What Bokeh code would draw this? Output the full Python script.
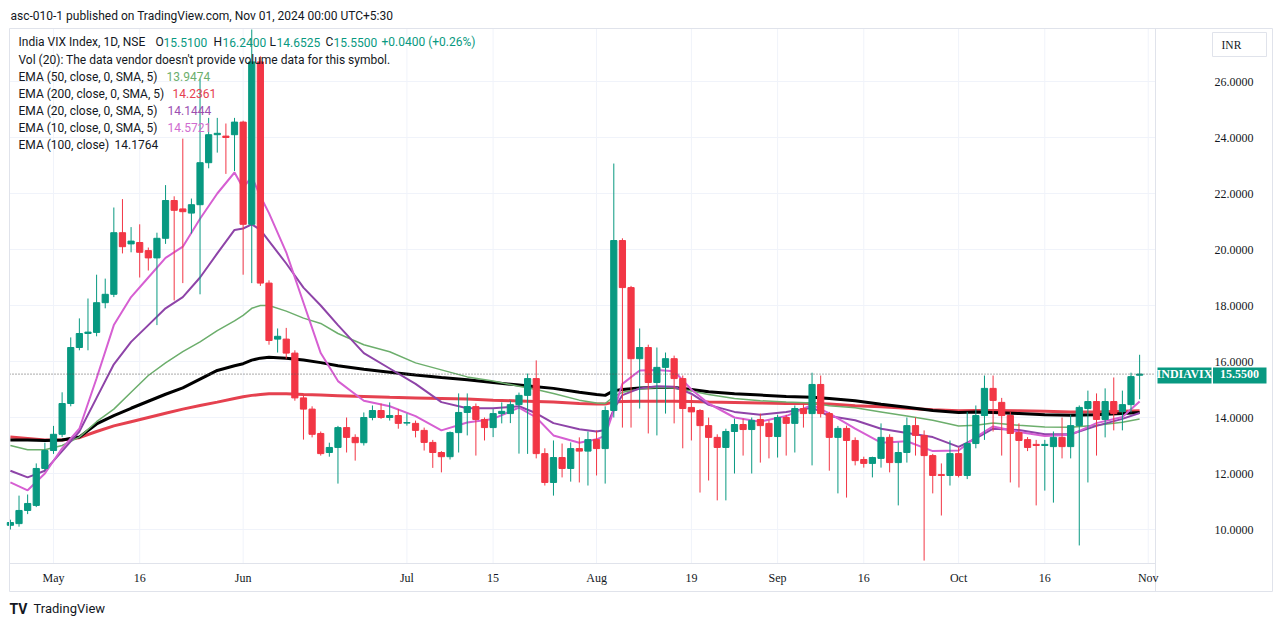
from bokeh.plotting import figure
from bokeh.models import Range1d, Label
from bokeh.embed import file_html
from bokeh.resources import INLINE

# ---------------- data ----------------
dates = [
    "2024-04-24", "2024-04-25", "2024-04-26", "2024-04-29", "2024-04-30",
    "2024-05-02", "2024-05-03", "2024-05-06", "2024-05-07", "2024-05-08", "2024-05-09", "2024-05-10",
    "2024-05-13", "2024-05-14", "2024-05-15", "2024-05-16", "2024-05-17", "2024-05-18", "2024-05-21",
    "2024-05-22", "2024-05-23", "2024-05-24", "2024-05-27", "2024-05-28", "2024-05-29", "2024-05-30",
    "2024-05-31",
    "2024-06-03", "2024-06-04", "2024-06-05", "2024-06-06", "2024-06-07", "2024-06-10", "2024-06-11",
    "2024-06-12", "2024-06-13", "2024-06-14", "2024-06-18", "2024-06-19", "2024-06-20", "2024-06-21",
    "2024-06-24", "2024-06-25", "2024-06-26", "2024-06-27", "2024-06-28",
    "2024-07-01", "2024-07-02", "2024-07-03", "2024-07-04", "2024-07-05", "2024-07-08", "2024-07-09",
    "2024-07-10", "2024-07-11", "2024-07-12", "2024-07-15", "2024-07-16", "2024-07-18", "2024-07-19",
    "2024-07-22", "2024-07-23", "2024-07-24", "2024-07-25", "2024-07-26", "2024-07-29", "2024-07-30",
    "2024-07-31",
    "2024-08-01", "2024-08-02", "2024-08-05", "2024-08-06", "2024-08-07", "2024-08-08", "2024-08-09",
    "2024-08-12", "2024-08-13", "2024-08-14", "2024-08-16", "2024-08-19", "2024-08-20", "2024-08-21",
    "2024-08-22", "2024-08-23", "2024-08-26", "2024-08-27", "2024-08-28", "2024-08-29", "2024-08-30",
    "2024-09-02", "2024-09-03", "2024-09-04", "2024-09-05", "2024-09-06", "2024-09-09", "2024-09-10",
    "2024-09-11", "2024-09-12", "2024-09-13", "2024-09-16", "2024-09-17", "2024-09-18", "2024-09-19",
    "2024-09-20", "2024-09-23", "2024-09-24", "2024-09-25", "2024-09-26", "2024-09-27", "2024-09-30",
    "2024-10-01", "2024-10-03", "2024-10-04", "2024-10-07", "2024-10-08", "2024-10-09", "2024-10-10",
    "2024-10-11", "2024-10-14", "2024-10-15", "2024-10-16", "2024-10-17", "2024-10-18", "2024-10-21",
    "2024-10-22", "2024-10-23", "2024-10-24", "2024-10-25", "2024-10-28", "2024-10-29", "2024-10-30",
    "2024-10-31",
]

opens = [
    10.15, 10.21, 10.68, 10.86, 12.18,
    12.82, 13.4, 14.5, 16.5, 17.0, 17.04, 18.1, 18.4, 20.6, 20.2, 20.25, 19.96, 19.7, 20.4, 21.75,
    21.45, 21.3, 21.6, 23.1, 24.1, 24.05, 24.1,
    24.55, 20.9, 26.7, 18.8, 16.8, 16.8, 16.3, 14.7, 14.3, 13.43, 12.75, 12.93, 13.64, 13.29, 13.1,
    14.0, 14.25, 14.0, 14.07,
    13.8, 13.79, 13.54, 13.11, 12.75, 12.6, 13.46, 14.18, 14.39, 13.93, 13.64, 14.14, 14.14, 14.46,
    14.79, 15.39, 12.71, 11.68, 12.57, 12.18, 12.89, 12.8,
    13.21, 12.89, 14.25, 20.32, 18.64, 16.1, 16.5, 15.25, 15.79, 16.1, 15.39, 14.36, 14.25, 13.71,
    13.29, 12.93, 13.5, 13.75, 13.57, 13.93, 13.79,
    13.32, 14.0, 13.79, 14.32, 14.14, 15.18, 14.14, 13.29, 13.61, 13.18, 12.5, 12.36, 12.54, 13.29,
    12.39, 12.75, 13.71, 13.36, 12.64, 11.96, 11.93,
    12.71, 11.93, 13.07, 14.07, 15.04, 14.54, 14.07, 13.46, 13.21, 13.04, 13.0, 12.96, 13.29, 12.96,
    13.71, 14.32, 14.57, 13.93, 14.57, 14.21, 14.46, 15.51,
]
highs = [
    10.35, 11.21, 11.25, 12.36, 13.1,
    13.7, 14.9, 16.86, 17.54, 18.25, 19.1, 18.96, 21.5, 21.8, 20.8, 20.9, 20.07, 20.6, 22.3, 21.9,
    23.96, 21.82, 26.1, 24.7, 24.7, 24.5, 24.7,
    24.6, 31.7, 26.9, 18.9, 17.18, 17.2, 16.4, 14.8, 14.4, 13.5, 13.1, 13.7, 14.0, 13.4, 14.18,
    14.43, 14.5, 14.54, 14.3,
    14.14, 13.89, 13.64, 13.2, 12.8, 13.5, 14.86, 14.86, 14.5, 14.0, 14.3, 14.54, 14.6, 14.89,
    15.57, 16.04, 12.9, 13.18, 13.07, 13.11, 13.29, 13.5,
    13.54, 14.4, 23.07, 20.4, 18.7, 17.18, 16.6, 16.5, 16.32, 16.21, 15.5, 14.79, 14.3, 14.0,
    13.4, 13.6, 13.96, 13.96, 14.0, 14.14, 13.9,
    14.1, 14.1, 14.43, 14.5, 15.6, 15.5, 14.2, 13.7, 13.71, 13.29, 12.6, 12.6, 13.79, 13.4,
    13.11, 14.0, 14.0, 13.54, 12.7, 12.36, 13.18,
    12.93, 14.2, 14.43, 15.5, 15.5, 14.7, 14.2, 13.79, 13.3, 13.2, 13.2, 13.5, 14.0, 14.1,
    14.43, 14.96, 14.86, 15.04, 15.43, 14.96, 15.6, 16.24,
]
lows = [
    10.0, 10.1, 10.55, 10.8, 12.1,
    12.7, 13.3, 14.4, 16.4, 16.4, 16.9, 17.9, 18.3, 19.86, 19.9, 19.0, 19.25, 17.3, 20.2, 18.18,
    18.8, 20.57, 18.4, 22.9, 23.46, 22.7, 22.8,
    19.1, 18.8, 18.7, 16.6, 16.32, 16.1, 14.6, 13.21, 13.29, 12.64, 12.6, 11.64, 12.75, 12.46, 13.0,
    13.9, 13.95, 13.89, 13.6,
    13.71, 13.29, 12.82, 12.2, 12.04, 12.5, 12.75, 13.36, 12.64, 13.18, 13.3, 13.79, 13.8, 12.71,
    12.7, 12.54, 11.57, 11.21, 11.86, 11.71, 11.68, 11.57,
    11.93, 11.64, 14.0, 13.64, 13.64, 14.32, 13.43, 13.36, 14.14, 13.79, 12.9, 13.18, 11.32, 11.75,
    11.04, 11.04, 12.0, 12.64, 12.0, 12.39, 12.54,
    12.57, 12.64, 12.75, 13.64, 12.29, 14.0, 12.1, 11.29, 11.14, 12.29, 12.21, 11.86, 12.21, 12.04,
    10.86, 12.39, 12.64, 8.89, 11.29, 10.5, 11.57,
    11.86, 11.8, 12.9, 13.2, 13.5, 12.64, 11.68, 11.5, 12.8, 10.86, 11.39, 10.96, 12.54, 12.54,
    9.43, 11.68, 12.64, 13.29, 13.54, 13.54, 14.18, 14.6525,
]
closes = [
    10.25, 10.68, 10.93, 12.18, 12.82,
    13.4, 14.5, 16.5, 17.0, 17.05, 18.1, 18.4, 20.6, 20.1, 20.3, 19.9, 19.7, 20.4, 21.75, 21.4,
    21.35, 21.6, 23.1, 24.1, 24.15, 24.0, 24.55,
    20.9, 26.7, 18.8, 16.75, 16.9, 16.3, 14.7, 14.3, 13.4, 12.71, 12.93, 13.64, 13.29, 13.1, 14.0,
    14.25, 14.0, 14.07, 13.79,
    13.82, 13.54, 13.11, 12.75, 12.6, 13.46, 14.18, 14.39, 13.93, 13.64, 14.14, 14.22, 14.46, 14.79,
    15.39, 12.71, 11.68, 12.57, 12.18, 12.89, 12.8, 13.21,
    12.89, 14.25, 20.32, 18.64, 16.1, 16.5, 15.25, 15.79, 16.1, 15.39, 14.32, 14.2, 13.71, 13.29,
    12.93, 13.5, 13.75, 13.57, 13.89, 13.71, 13.32,
    14.0, 13.79, 14.32, 14.14, 15.18, 14.14, 13.29, 13.61, 13.18, 12.46, 12.36, 12.57, 13.29, 12.39,
    12.75, 13.71, 13.36, 12.64, 11.93, 11.93, 12.71,
    11.93, 13.07, 14.07, 15.04, 14.61, 14.07, 13.43, 13.18, 12.93, 13.0, 13.04, 13.29, 12.96, 13.71,
    14.36, 14.57, 13.93, 14.57, 14.14, 14.46, 15.46, 15.55,
]

# EMA readings (position in `dates`)
ema_at = [0, 2, 4, 6, 8, 10, 12, 14, 16, 18, 20, 22, 24, 26, 27, 28, 29, 30, 32, 34, 36, 38, 41, 44,
          47, 50, 53, 56, 59, 61, 63, 66, 68, 69, 70, 71, 73, 75, 77, 79, 81, 84, 87, 90, 93, 95,
          98, 101, 104, 107, 110, 112, 114, 117, 120, 123, 126, 129, 131]
ema100 = [13.2, 13.2, 13.18, 13.2, 13.3, 13.77, 14.07, 14.33, 14.58, 14.83, 15.06, 15.37, 15.68, 15.85,
          15.92, 16.05, 16.12, 16.15, 16.12, 16.05, 15.96, 15.85, 15.72, 15.62, 15.52, 15.43, 15.35,
          15.25, 15.16, 15.1, 15.04, 14.9, 14.82, 14.79, 14.96, 15.0, 15.05, 15.07, 15.07, 15.0,
          14.92, 14.85, 14.8, 14.75, 14.72, 14.68, 14.6, 14.47, 14.37, 14.25, 14.18, 14.2, 14.18,
          14.14, 14.1, 14.08, 14.1, 14.14, 14.18]
ema200 = [13.3, 13.25, 13.2, 13.2, 13.28, 13.5, 13.7, 13.85, 14.0, 14.15, 14.3, 14.43, 14.55, 14.68,
          14.74, 14.79, 14.82, 14.85, 14.85, 14.82, 14.8, 14.78, 14.75, 14.72, 14.7, 14.68, 14.66,
          14.62, 14.59, 14.57, 14.55, 14.5, 14.48, 14.48, 14.55, 14.57, 14.58, 14.58, 14.58, 14.57,
          14.55, 14.54, 14.52, 14.5, 14.5, 14.48, 14.42, 14.38, 14.33, 14.28, 14.24, 14.25, 14.25,
          14.24, 14.22, 14.2, 14.2, 14.22, 14.24]
ema50 = [13.0, 12.85, 12.85, 13.0, 13.3, 13.85, 14.3, 14.9, 15.5, 15.95, 16.35, 16.7, 17.1, 17.45,
         17.65, 17.9, 18.0, 18.0, 17.8, 17.55, 17.36, 17.0, 16.6, 16.35, 15.95, 15.7, 15.45, 15.3,
         15.12, 15.0, 14.86, 14.62, 14.52, 14.5, 14.75, 14.9, 15.02, 15.07, 15.05, 14.95, 14.82,
         14.68, 14.6, 14.55, 14.52, 14.42, 14.35, 14.2, 14.05, 13.9, 13.7, 13.72, 13.8, 13.72, 13.66,
         13.65, 13.72, 13.83, 13.95]
ema20 = [12.1, 11.86, 12.1, 12.8, 13.5, 14.7, 15.9, 16.7, 17.3, 17.9, 18.3, 19.0, 19.86, 20.7, 20.75,
         20.9, 20.7, 20.3, 19.5, 18.64, 18.0, 17.3, 16.3, 15.75, 15.2, 14.55, 14.33, 14.33, 14.4,
         14.15, 13.8, 13.58, 13.5, 13.55, 14.3, 14.8, 15.04, 15.12, 15.1, 14.85, 14.45, 14.2, 14.1,
         14.2, 14.35, 14.05, 13.9, 13.6, 13.45, 13.3, 12.95, 13.25, 13.6, 13.55, 13.4, 13.4, 13.7,
         13.95, 14.16]
ema10 = [11.68, 11.4, 12.0, 12.9, 13.6, 15.4, 17.3, 18.3, 19.0, 19.7, 20.1, 21.1, 22.0, 22.75, 22.2,
         22.6, 21.9, 21.3, 19.9, 18.1, 16.3, 15.3, 14.6, 14.4, 14.05, 13.54, 13.82, 13.95, 14.35,
         14.0, 13.36, 13.1, 13.22, 13.35, 14.25, 15.2, 15.68, 15.7, 15.65, 15.0, 14.5, 14.0, 13.85,
         14.05, 14.45, 14.15, 13.6, 13.1, 13.15, 12.8, 12.82, 13.3, 13.68, 13.48, 13.34, 13.38, 13.8,
         14.02, 14.57]

tick_dates = ["2024-05-02", "2024-05-16", "2024-06-03", "2024-07-01", "2024-07-15", "2024-08-01",
              "2024-08-19", "2024-09-02", "2024-09-16", "2024-10-01", "2024-10-16", "2024-11-01"]
tick_labels = ["May", "16", "Jun", "Jul", "15", "Aug", "19", "Sep", "16", "Oct", "16", "Nov"]
price_ticks = [10, 12, 14, 16, 18, 20, 22, 24, 26]
last_close = 15.55

# ---------------- layout / style ----------------
UP = "#089981"
DOWN = "#f23645"
TXT = "#131722"
BORDER = "#e0e3eb"
GRID = "#f0f3fa"
FONT = "Roboto"
W, H = 1280, 626
STEP = 8.62                 # px per trading day
X0_PX, X0_POS = 53, 5       # pixel column of the first May candle and its list position


def X(px):                  # page pixel column -> data x
    return X0_POS + (px - X0_PX) / STEP


def Y(py):                  # page pixel row -> data y (price)
    return 26 - (py - 81) / 28.0


PLOT_L, PLOT_R, PLOT_T, PLOT_B = 9, 1155, 28, 563
AXIS_B, CHART_R = 591, 1272

xs = list(range(len(dates)))
pos = {d: i for i, d in enumerate(dates)}
tick_pos = [pos.get(d, len(dates)) for d in tick_dates]
ema_x = [xs[i] for i in ema_at]

p = figure(width=W, height=H, output_backend="svg", toolbar_location=None,
           x_range=Range1d(X(0), X(W)), y_range=Range1d(Y(H), Y(0)),
           x_axis_location=None, y_axis_location=None, min_border=0)
p.outline_line_color = None
p.background_fill_color = "white"
p.border_fill_color = "white"
p.grid.visible = False

# grid
p.segment(x0=tick_pos, y0=[Y(PLOT_T)] * len(tick_pos), x1=tick_pos, y1=[Y(PLOT_B)] * len(tick_pos),
          line_color=GRID, line_width=1)
p.segment(x0=[X(PLOT_L)] * len(price_ticks), y0=price_ticks, x1=[X(PLOT_R)] * len(price_ticks),
          y1=price_ticks, line_color=GRID, line_width=1)

# EMA lines (under candles)
p.line(ema_x, ema200, line_color="#e5414f", line_width=3)
p.line(ema_x, ema100, line_color="#000000", line_width=3)
p.line(ema_x, ema50, line_color="#6cae6c", line_width=1.5)
p.line(ema_x, ema20, line_color="#8e44a8", line_width=2)
p.line(ema_x, ema10, line_color="#d65fd2", line_width=2)

# candles (wicks cut at the top of the pane)
top_v = Y(PLOT_T + 1)
cols = [UP if c >= o else DOWN for o, c in zip(opens, closes)]
tops = [max(o, c) for o, c in zip(opens, closes)]
bots = [min(o, c) for o, c in zip(opens, closes)]
p.segment(x0=xs, y0=lows, x1=xs, y1=[min(h, top_v) for h in highs], line_color=cols, line_width=1)
p.vbar(x=xs, width=0.72, top=tops, bottom=bots, fill_color=cols, line_color=cols, line_width=1)

# last price dotted line
p.segment(x0=[X(PLOT_L)], y0=[last_close], x1=[X(PLOT_R)], y1=[last_close],
          line_color="#555555", line_dash="1 2", line_width=1)

# frame / separators
p.quad(left=[X(PLOT_L)], right=[X(CHART_R)], top=[Y(PLOT_T)], bottom=[Y(AXIS_B)],
       fill_color=None, line_color=BORDER, line_width=1)
p.segment(x0=[X(PLOT_R)], y0=[Y(PLOT_T)], x1=[X(PLOT_R)], y1=[Y(AXIS_B)], line_color=BORDER)
p.segment(x0=[X(PLOT_L)], y0=[Y(PLOT_B)], x1=[X(PLOT_R)], y1=[Y(PLOT_B)], line_color=BORDER)

# price scale labels
p.text(x=[X(1214)] * len(price_ticks), y=price_ticks, text=[f"{t:.4f}" for t in price_ticks],
       text_font_size="12px", text_color=TXT, text_baseline="middle", text_align="left",
       text_font=FONT)
# time scale labels
p.text(x=tick_pos, y=[Y(577)] * len(tick_pos), text=tick_labels, text_font_size="12px",
       text_color=TXT, text_baseline="middle", text_align="center", text_font=FONT)

# last price tag
p.quad(left=[X(1157)], right=[X(1211)], top=[Y(367)], bottom=[Y(383)], fill_color=UP, line_color=None)
p.quad(left=[X(1212.5)], right=[X(1266)], top=[Y(367)], bottom=[Y(383)], fill_color=UP, line_color=None)
p.text(x=[X(1184), X(1239)], y=[last_close, last_close], text=["INDIAVIX", f"{last_close:.4f}"],
       text_font_size="12px", text_font_style="bold", text_color="white", text_baseline="middle",
       text_align="center", text_font=FONT)

# currency box
p.quad(left=[X(1212)], right=[X(1266)], top=[Y(32)], bottom=[Y(56)], fill_color="white",
       line_color=BORDER)
p.text(x=[X(1221)], y=[Y(44)], text=["INR"], text_font_size="11.5px", text_color=TXT,
       text_baseline="middle", text_align="left", text_font=FONT)


def lab(text, px, py, color=TXT, size="12px", bold=False):
    p.add_layout(Label(text=text, x=px, y=H - py, x_units="screen", y_units="screen",
                       text_color=color, text_font=FONT, text_font_size=size,
                       text_baseline="middle", text_align="left",
                       text_font_style="bold" if bold else "normal"))


lab("asc-010-1 published on TradingView.com, Nov 01, 2024 00:00 UTC+5:30", 10, 15)
lab("India VIX Index, 1D, NSE", 18, 41.5)
lab("O", 155, 41.5)
lab("15.5100", 163, 41.5, UP)
lab("H", 213, 41.5)
lab("16.2400", 222, 41.5, UP)
lab("L", 269, 41.5)
lab("14.6525", 276, 41.5, UP)
lab("C", 325, 41.5)
lab("15.5500", 333, 41.5, UP)
lab("+0.0400 (+0.26%)", 381, 41.5, UP)
lab("Vol (20): The data vendor doesn't provide volume data for this symbol.", 18, 59)
lab("EMA (50, close, 0, SMA, 5)", 18, 76)
lab("13.9474", 166, 76, "#6cae6c")
lab("EMA (200, close, 0, SMA, 5)", 18, 93)
lab("14.2361", 172, 93, "#e5414f")
lab("EMA (20, close, 0, SMA, 5)", 18, 110)
lab("14.1444", 167, 110, "#9c4fb0")
lab("EMA (10, close, 0, SMA, 5)", 18, 127)
lab("14.5721", 167, 127, "#d06cd0")
lab("EMA (100, close)", 18, 144)
lab("14.1764", 114, 144)

# footer
lab("TV", 9, 608, TXT, size="14px", bold=True)
lab("TradingView", 33, 608, TXT, size="13px")

open("out.html", "w").write(file_html(p, INLINE))
